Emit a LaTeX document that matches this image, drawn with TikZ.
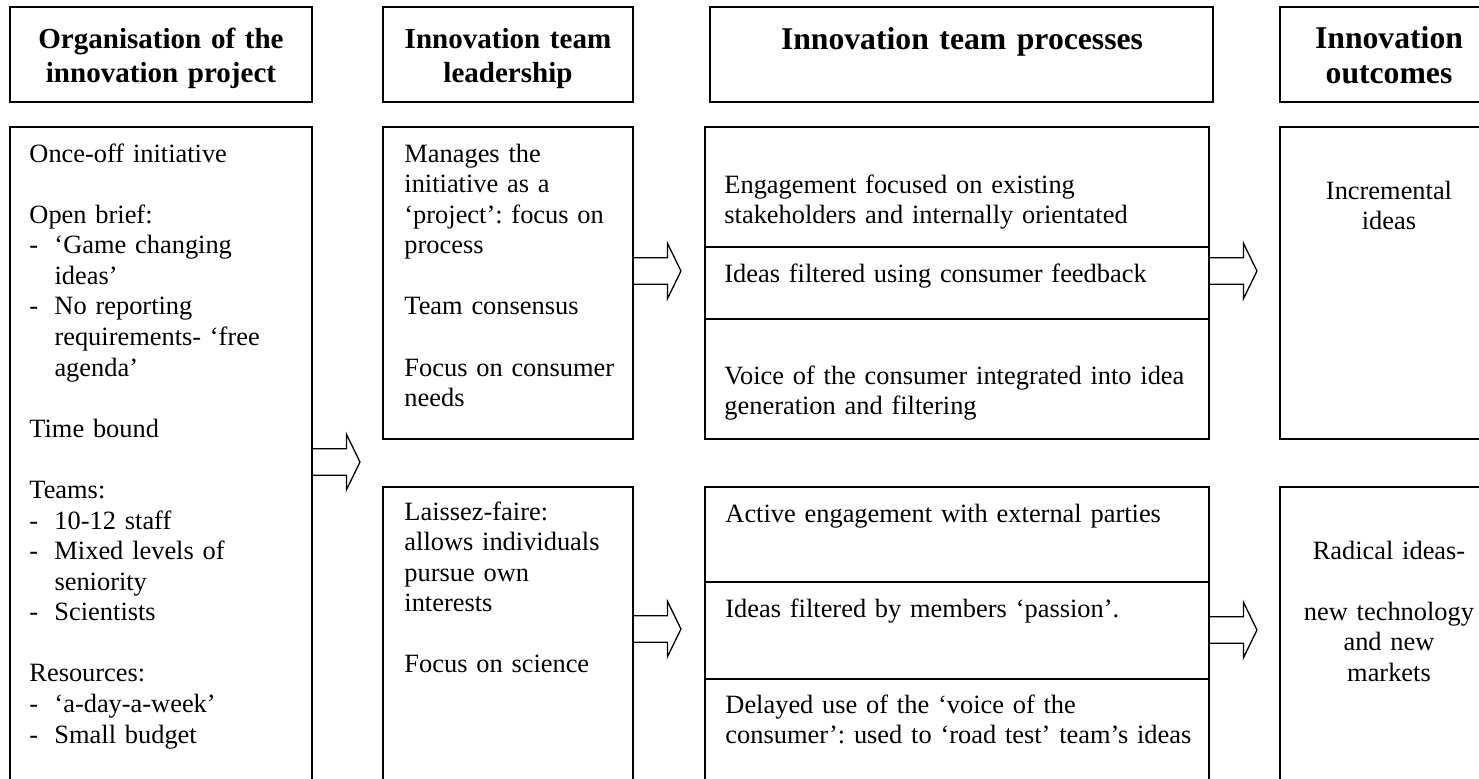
\documentclass[tikz,border=0pt]{standalone}
\usepackage{fontspec}
\setmainfont{Liberation Serif}
\usetikzlibrary{shapes.arrows,fit}
\frenchspacing

\newcommand{\dsh}{\makebox[11.4pt][l]{-}}
\newcommand{\ind}{\hspace*{11.4pt}}

\begin{document}
\begin{tikzpicture}[x=0.4545pt,y=-0.4545pt]
      \tikzstyle{box} = [draw, line width=0.85pt, inner sep=0pt, outer sep=0pt]
      \tikzstyle{head} = [inner sep=0pt, anchor=base, align=center, text width=250pt, font={\bfseries\fontsize{13.2}{15.9}\selectfont}]
      \tikzstyle{bighead} = [font={\bfseries\fontsize{14.4}{16.2}\selectfont}]
      \tikzstyle{txt} = [inner sep=0pt, anchor=base west, align=left, text width=260pt, font={\fontsize{12}{13.9}\selectfont}]
      \tikzstyle{ctr} = [txt, anchor=base, align=center, text width=100pt]
      \tikzstyle{fat} = [single arrow, draw, line width=0.6pt, inner xsep=0pt, inner ysep=5.7pt, outer sep=0pt, minimum height=21.8pt, single arrow head extend=6.6pt, single arrow tip angle=128, anchor=tail]
      \useasboundingbox (0,0) rectangle (1479,778);
      \clip (0,0) rectangle (1479,778);

      \node[box, fit={(10,7) (312,102)}] (orghead) {};
      \node[box, fit={(383,7) (633,102)}] (leadhead) {};
      \node[box, fit={(710,7) (1213,102)}] (prochead) {};
      \node[box, fit={(1280,7) (1500,102)}] (outhead) {};

      \node[box, fit={(10,127) (312,800)}] (orgbody) {};
      \node[box, fit={(383,127) (633,439)}] (leadtop) {};
      \node[box, fit={(383,487) (633,800)}] (leadbot) {};
      \node[box, fit={(705,127) (1209,247)}] (proc1) {};
      \node[box, fit={(705,247) (1209,319)}] (proc2) {};
      \node[box, fit={(705,319) (1209,439)}] (proc3) {};
      \node[box, fit={(705,487) (1209,582)}] (proc4) {};
      \node[box, fit={(705,582) (1209,679)}] (proc5) {};
      \node[box, fit={(705,679) (1209,800)}] (proc6) {};
      \node[box, fit={(1280,127) (1500,439)}] (outtop) {};
      \node[box, fit={(1280,487) (1500,800)}] (outbot) {};

      \foreach \src/\yy/\nm in {orgbody/462/arr1, leadtop/271/arr2, proc2/271/arr3, leadbot/629/arr4, proc5/630/arr5}{
        \node[fat] (\nm) at (\src.east |- 0,\yy) {};
      }

      \node[head] (orgtitle) at (161,48) {Organisation of the\\ innovation project};
      \node[head] (leadtitle) at (508,48) {Innovation team\\ leadership};
      \node[head, bighead] (proctitle) at (962,49) {Innovation team processes};
      \node[head, bighead] (outtitle) at (1389,48) {Innovation\\ outcomes};

      \node[txt] (orgtext) at (29,162) {Once-off initiative\\[\baselineskip]
        Open brief:\\
        \dsh `Game changing\\
        \ind ideas'\\
        \dsh No reporting\\
        \ind requirements- `free\\
        \ind agenda'\\[\baselineskip]
        Time bound\\[\baselineskip]
        Teams:\\
        \dsh 10-12 staff\\
        \dsh Mixed levels of\\
        \ind seniority\\
        \dsh Scientists\\[\baselineskip]
        Resources:\\
        \dsh `a-day-a-week'\\
        \dsh Small budget};
      \node[txt] (leadtext1) at (404,162) {Manages the\\ initiative as a\\ `project': focus on\\ process\\[\baselineskip]
        Team consensus\\[\baselineskip]
        Focus on consumer\\ needs};
      \node[txt] (leadtext2) at (404,520) {Laissez-faire:\\ allows individuals\\ pursue own\\ interests\\[\baselineskip]
        Focus on science};

      \node[txt] (proctext1) at (724,193) {Engagement focused on existing\\ stakeholders and internally orientated};
      \node[txt] (proctext2) at (724,282) {Ideas filtered using consumer feedback};
      \node[txt] (proctext3) at (724,384) {Voice of the consumer integrated into idea\\ generation and filtering};
      \node[txt] (proctext4) at (725,522) {Active engagement with external parties};
      \node[txt] (proctext5) at (725,617) {Ideas filtered by members `passion'.};
      \node[txt] (proctext6) at (725,713) {Delayed use of the `voice of the\\ consumer': used to `road test' team's ideas};

      \node[ctr] (outtext1) at (1389,199) {Incremental\\ ideas};
      \node[ctr] (outtext2) at (1389,559) {Radical ideas-\\[\baselineskip] new technology\\ and new\\ markets};
\end{tikzpicture}
\end{document}
